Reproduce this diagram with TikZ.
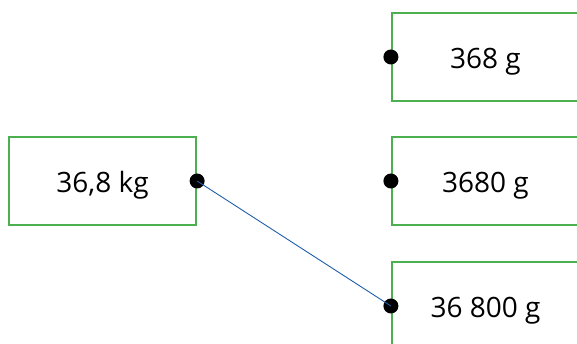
\documentclass[tikz,border=0pt]{standalone}
\usepackage{fontspec}
\setmainfont{Open Sans}
\definecolor{boxgreen}{HTML}{4CAF50}
\definecolor{lineblue}{HTML}{1F5FAA}
\tikzset{
  massbox/.style={draw=boxgreen, line width=2.2pt, minimum width=187pt, minimum height=88pt,
    inner sep=0pt, text height=24pt, text depth=0pt, font=\fontsize{28}{32}\selectfont},
  dot/.style={circle, fill=black, minimum size=15pt, inner sep=0pt}
}
\begin{document}
\begin{tikzpicture}[x=1pt, y=1pt]
  \useasboundingbox (0,0) rectangle (577,344);
  \begin{scope}
    \clip (0,0) rectangle (577,344);
    \draw
      (102.5,163) node[massbox] (kg){36,8 kg}
      (485.5,287) node[massbox] (g1){368 g}
      (485.5,163) node[massbox] (g2){3680 g}
      (485.5,38) node[massbox] (g3){36 800 g};
  \end{scope}
  \node[dot] (d0) at (kg.east) {};
  \node[dot] (d1) at (g1.west) {};
  \node[dot] (d2) at (g2.west) {};
  \node[dot] (d3) at (g3.west) {};
  \begin{scope}[-, lineblue, line width=0.9pt]
    \draw (d0.center) to (d3.center);
  \end{scope}
\end{tikzpicture}
\end{document}
